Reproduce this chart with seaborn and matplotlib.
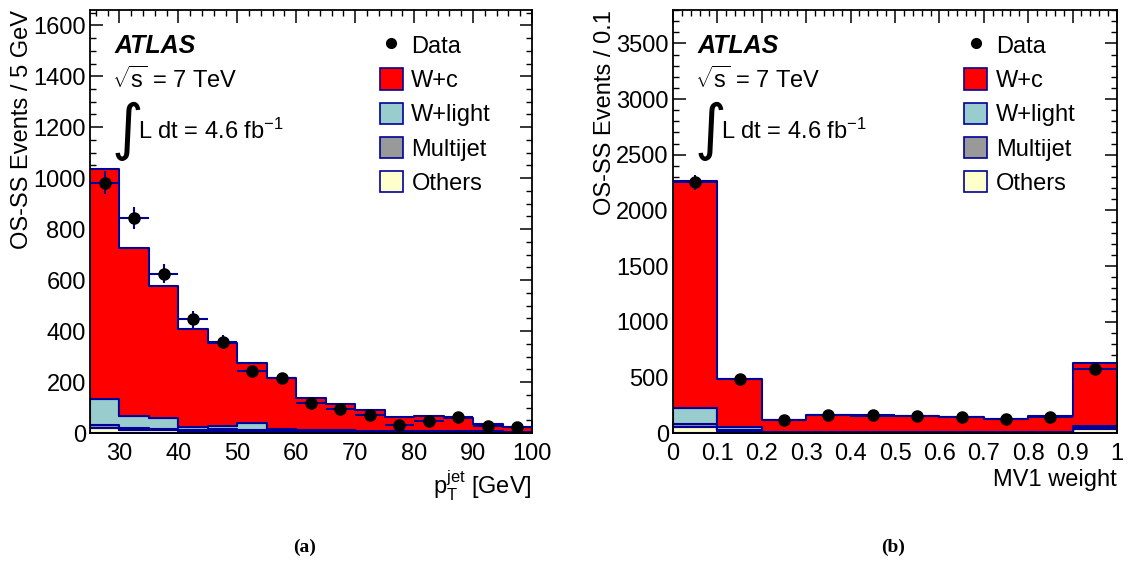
import numpy as np
import pandas as pd
import matplotlib
matplotlib.use("Agg")
import matplotlib.pyplot as plt
import seaborn as sns
from matplotlib.patches import Patch
from matplotlib.lines import Line2D
from matplotlib.ticker import MultipleLocator, FuncFormatter

# ---------------- data: panel (a) jet pT ----------------
pt_edges = [25, 30, 35, 40, 45, 50, 55, 60, 65, 70, 75, 80, 85, 90, 95, 100]
pt_wc = [903, 660, 520, 386, 325, 234, 200, 124, 102, 81, 56, 58, 52, 28, 20]
pt_wlight = [102, 47, 42, 10, 15, 27, 6, 5, 4, 4, 3, 4, 4, 3, 2]
pt_multijet = [10, 8, 6, 4, 6, 6, 4, 3, 3, 2, 2, 2, 2, 1, 1]
pt_others = [20, 12, 10, 8, 8, 6, 5, 4, 4, 3, 3, 3, 2, 2, 2]
pt_data = [982, 842, 625, 446, 356, 243, 217, 116, 95, 71, 31, 47, 62, 27, 24]
pt_err = [46, 43, 38, 32, 27, 21, 18, 15, 14, 13, 12, 12, 12, 11, 10]

# ---------------- data: panel (b) MV1 weight ----------------
mv1_edges = [0.0, 0.1, 0.2, 0.3, 0.4, 0.5, 0.6, 0.7, 0.8, 0.9, 1.0]
mv1_wc = [2040, 428, 104, 148, 141, 141, 129, 114, 137, 570]
mv1_wlight = [142, 25, 5, 5, 5, 5, 5, 5, 5, 15]
mv1_multijet = [28, 10, 3, 3, 3, 3, 3, 3, 3, 8]
mv1_others = [52, 20, 5, 4, 4, 4, 4, 4, 5, 40]
mv1_data = [2253, 486, 117, 165, 159, 156, 140, 126, 147, 573]
mv1_err = [68, 30, 18, 20, 20, 20, 20, 19, 20, 35]

comp_names = ["W+c", "W+light", "Multijet", "Others"]
comp_colors = {"W+c": "#FF0000", "W+light": "#99CCCC",
               "Multijet": "#999999", "Others": "#FFFFCC"}
OUTLINE = "#000099"

sns.set_theme(style="ticks")
plt.rcParams["font.family"] = ["Liberation Sans", "DejaVu Sans"]
plt.rcParams["mathtext.fontset"] = "custom"
plt.rcParams["mathtext.rm"] = "Liberation Sans"
plt.rcParams["mathtext.it"] = "Liberation Sans:italic"
plt.rcParams["mathtext.bf"] = "Liberation Sans:bold"
plt.rcParams["axes.linewidth"] = 1.2
for k in ["text.color", "axes.labelcolor", "xtick.color", "ytick.color",
          "axes.edgecolor"]:
    plt.rcParams[k] = "black"

FS = 17

fig = plt.figure(figsize=(11.28, 5.62), dpi=100)
axA = fig.add_axes([90 / 1128, 1 - 433 / 562, 442 / 1128, 423 / 562])
axB = fig.add_axes([673 / 1128, 1 - 433 / 562, 444 / 1128, 423 / 562])


def draw_panel(ax, edges, comps, data, err, ylim, xlabel, ylabel):
    edges = [float(e) for e in edges]
    e = np.asarray(edges)
    centers = 0.5 * (e[:-1] + e[1:])
    half = 0.5 * (e[1:] - e[:-1])
    rows = []
    for name in comp_names:
        for c, v in zip(centers, comps[name]):
            rows.append((c, v, name))
    df = pd.DataFrame(rows, columns=["x", "w", "comp"])
    sns.histplot(data=df, x="x", weights="w", hue="comp", hue_order=comp_names,
                 multiple="stack", bins=edges, element="step",
                 palette=comp_colors, alpha=1, edgecolor=OUTLINE,
                 linewidth=1.5, legend=False, ax=ax)
    ax.errorbar(centers, data, yerr=err, xerr=half, fmt="o", color="black",
                ecolor=OUTLINE, elinewidth=1.5, capsize=0, markersize=8,
                zorder=10)
    ax.set_xlim(edges[0], edges[-1])
    ax.set_ylim(*ylim)
    ax.set_xlabel(xlabel, loc="right", fontsize=FS, labelpad=3)
    ax.set_ylabel(ylabel, loc="top", fontsize=FS, labelpad=0)
    ax.tick_params(which="both", direction="in", top=True, right=True,
                   labelsize=FS, color="black", labelcolor="black")
    ax.tick_params(which="major", length=9, width=1.1)
    ax.tick_params(which="minor", length=4.5, width=1.0)
    ax.tick_params(axis="x", which="major", pad=7)
    ax.tick_params(axis="y", which="major", pad=3)
    for s in ax.spines.values():
        s.set_linewidth(1.3)
        s.set_color("black")

    handles = [Line2D([], [], marker="o", color="black", linestyle="none",
                      markersize=7)]
    for name in comp_names:
        handles.append(Patch(facecolor=comp_colors[name], edgecolor=OUTLINE,
                             linewidth=1.2))
    ax.legend(handles, ["Data"] + comp_names, loc="upper left",
              bbox_to_anchor=(0.655, 0.943), frameon=False, fontsize=FS,
              handlelength=1.0, handleheight=1.0, handletextpad=0.35,
              labelspacing=0.45, borderpad=0, borderaxespad=0,
              labelcolor="black")

    ax.text(0.055, 0.915, "ATLAS", transform=ax.transAxes, fontsize=FS + 1,
            fontweight="bold", fontstyle="italic", va="center", ha="left")
    ax.text(0.05, 0.835, r"$\sqrt{\mathrm{s}}$ = 7 TeV", transform=ax.transAxes,
            fontsize=FS, va="center", ha="left")
    ax.text(0.048, 0.714, "\u222b", transform=ax.transAxes, fontsize=44,
            family="DejaVu Sans", va="center", ha="left")
    ax.text(0.108, 0.714, r"L dt = 4.6 fb$^{\mathrm{-1}}$",
            transform=ax.transAxes, fontsize=FS, va="center", ha="left")


draw_panel(axA, pt_edges,
           {"W+c": pt_wc, "W+light": pt_wlight, "Multijet": pt_multijet,
            "Others": pt_others},
           pt_data, pt_err, (0, 1660),
           r"$\mathrm{p}_{\mathrm{T}}^{\mathrm{jet}}$ [GeV]",
           "OS-SS Events / 5 GeV")
axA.xaxis.set_major_locator(MultipleLocator(10))
axA.xaxis.set_minor_locator(MultipleLocator(2))
axA.yaxis.set_major_locator(MultipleLocator(200))
axA.yaxis.set_minor_locator(MultipleLocator(50))

draw_panel(axB, mv1_edges,
           {"W+c": mv1_wc, "W+light": mv1_wlight, "Multijet": mv1_multijet,
            "Others": mv1_others},
           mv1_data, mv1_err, (0, 3800),
           "MV1 weight", "OS-SS Events / 0.1")
axB.xaxis.set_major_locator(MultipleLocator(0.1))
axB.xaxis.set_minor_locator(MultipleLocator(0.02))
axB.xaxis.set_major_formatter(FuncFormatter(lambda v, p: f"{v:g}"))
axB.yaxis.set_major_locator(MultipleLocator(500))
axB.yaxis.set_minor_locator(MultipleLocator(100))

fig.text(305 / 1128, 1 - 547 / 562, "(a)", ha="center", va="center",
         fontsize=14, fontweight="bold", family="Liberation Serif")
fig.text(893 / 1128, 1 - 547 / 562, "(b)", ha="center", va="center",
         fontsize=14, fontweight="bold", family="Liberation Serif")

fig.savefig("out.png", dpi=100)
